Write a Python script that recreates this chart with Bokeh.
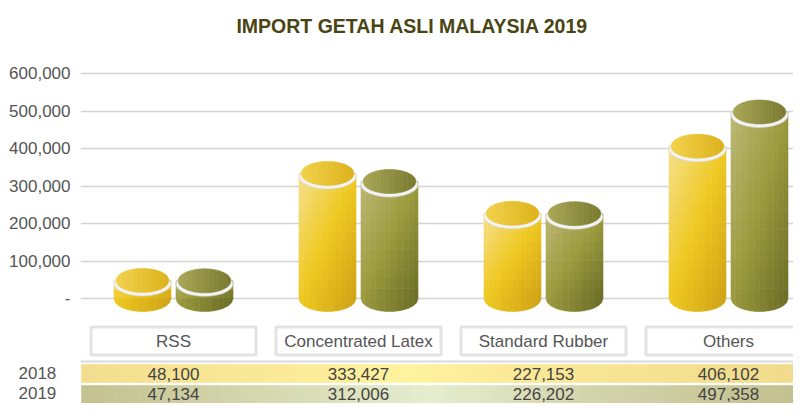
import numpy as np
from bokeh.plotting import figure
from bokeh.models import (Range1d, FixedTicker, ColumnDataSource, Label,
                          NumeralTickFormatter, Span)
from bokeh.embed import file_html
from bokeh.resources import INLINE
from bokeh.core.properties import value

# ---------------- data ----------------
categories = ["RSS", "Concentrated Latex", "Standard Rubber", "Others"]
years = ["2018", "2019"]
import_2018 = [48100, 333427, 227153, 406102]
import_2019 = [47134, 312006, 226202, 497358]
y_ticks = [0, 100000, 200000, 300000, 400000, 500000, 600000]
title_text = "IMPORT GETAH ASLI MALAYSIA 2019"

# ---------------- layout helpers ----------------
W, H = 793, 403
PX_PER_CAT = 185.0          # pixels between category centres
PX_PER_100K = 37.5          # pixels per 100,000


def dx(px):
    return px / PX_PER_CAT


def dy(px):
    return px * 1e5 / PX_PER_100K


def fx(px_x):              # canvas pixel -> data x
    return (px_x - 173.0) / PX_PER_CAT


def fy(px_y):              # canvas pixel -> data y
    return (298.0 - px_y) * 1e5 / PX_PER_100K


FONT_NAME = "Liberation Sans"
FONT = value(FONT_NAME)
FS = "17px"

# table row geometry (canvas px)
band_rows = {"2018": (364, 382), "2019": (385, 403)}
row_center = {"2018": 373, "2019": 393}
row_ticks = {int(round(fy(row_center[yr]))): yr for yr in years}

p = figure(width=W, height=H, output_backend="svg", toolbar_location=None,
           x_range=Range1d(fx(80), fx(W)), y_range=Range1d(fy(H), fy(0)),
           x_axis_location=None, min_border=0, min_border_left=80)
p.outline_line_color = None
p.background_fill_color = "white"
p.border_fill_color = "white"

ax = p.yaxis[0]
ax.ticker = FixedTicker(ticks=y_ticks + list(row_ticks.keys()))
ax.formatter = NumeralTickFormatter(format="0,0")
overrides = {0: "-"}
for k, yr in row_ticks.items():
    overrides[k] = yr + "\u00a0\u00a0\u00a0"
ax.major_label_overrides = overrides
ax.axis_line_color = None
ax.major_tick_line_color = None
ax.minor_tick_line_color = None
ax.major_tick_out = 0
ax.major_tick_in = 0
ax.major_label_standoff = 10
ax.major_label_text_font = FONT_NAME
ax.major_label_text_font_size = FS
ax.major_label_text_color = "#555555"
p.ygrid.ticker = FixedTicker(ticks=y_ticks)
p.ygrid.grid_line_color = "#d4d4d4"
p.ygrid.grid_line_width = 1.6
p.xgrid.visible = False


def hex2rgb(h):
    h = h.lstrip("#")
    return np.array([int(h[i:i + 2], 16) for i in (0, 2, 4)], dtype=float)


def lerp_stops(stops, t):
    t = min(max(t, 0.0), 1.0)
    for (p0, c0), (p1, c1) in zip(stops[:-1], stops[1:]):
        if t <= p1:
            f = (t - p0) / (p1 - p0) if p1 > p0 else 0
            c = hex2rgb(c0) * (1 - f) + hex2rgb(c1) * f
            return "#%02x%02x%02x" % tuple(int(round(v)) for v in c)
    return stops[-1][1]


body_stops = {
    "2018": [(0, "#f6e08e"), (0.5, "#efc921"), (1, "#cfa214")],
    "2019": [(0, "#bcb874"), (0.5, "#9c9b3e"), (1, "#6a6d26")],
}
face_stops = {
    "2018": [(0, "#f2d24c"), (1, "#ddb21a")],
    "2019": [(0, "#aaa757"), (1, "#797a2e")],
}

offsets = {"2018": -dx(31), "2019": dx(31)}
series = {"2018": import_2018, "2019": import_2019}
half = dx(28.5)
ry_bot = dy(13)
NC = 12

quads = dict(left=[], right=[], bottom=[], top=[], color=[])
bottoms = dict(xs=[], ys=[], color=[])
faces = dict(xs=[], ys=[], color=[])
rims = dict(x=[], y=[])

for yr in years:
    for i, v in enumerate(series[yr]):
        cx = i + offsets[yr]
        hpx = v * PX_PER_100K / 1e5
        NR = max(2, int(np.ceil(hpx / 10.0)))
        x_edges = np.linspace(cx - half, cx + half, NC + 1)
        y_edges = np.linspace(0, v, NR + 1)
        rx_f = half - dx(2)
        ry_f = dy(12)
        for c in range(NC):
            u = (c + 0.5) / NC
            for r in range(NR):
                w = 1 - (r + 0.5) / NR
                quads["left"].append(x_edges[c])
                quads["right"].append(x_edges[c + 1])
                quads["bottom"].append(y_edges[r])
                quads["top"].append(y_edges[r + 1])
                quads["color"].append(lerp_stops(body_stops[yr], 0.5 * u + 0.5 * w))
            # bottom half-ellipse strip
            xa, xb = x_edges[c], x_edges[c + 1]
            xsamp = np.linspace(xb, xa, 5)
            curve = -ry_bot * np.sqrt(np.clip(1 - ((xsamp - cx) / half) ** 2, 0, 1))
            bottoms["xs"].append([xa, xb] + list(xsamp))
            bottoms["ys"].append([0, 0] + list(curve))
            bottoms["color"].append(lerp_stops(body_stops[yr], 0.5 * u + 0.5))
            # top face strip
            fa = cx - rx_f + c * 2 * rx_f / NC
            fb = cx - rx_f + (c + 1) * 2 * rx_f / NC
            s = np.linspace(fa, fb, 5)
            k = np.sqrt(np.clip(1 - ((s - cx) / rx_f) ** 2, 0, 1))
            faces["xs"].append(list(s) + list(s[::-1]))
            faces["ys"].append(list(v + ry_f * k) + list((v - ry_f * k)[::-1]))
            faces["color"].append(lerp_stops(face_stops[yr], u))
        rims["x"].append(cx)
        rims["y"].append(v - dy(3))

# table row bands
band_stops = {
    "2018": [(0, "#f3dd8e"), (0.45, "#fff39e"), (0.62, "#f9e896"), (1, "#f1da8b")],
    "2019": [(0, "#c3c18f"), (0.48, "#e6edcd"), (0.7, "#d2d4ab"), (1, "#c2bf8d")],
}
bands = dict(left=[], right=[], bottom=[], top=[], color=[])
NS = 64
bx = np.linspace(fx(81), fx(809), NS + 1)
for yr in years:
    y0, y1 = band_rows[yr]
    for s in range(NS):
        bands["left"].append(bx[s])
        bands["right"].append(bx[s + 1])
        bands["top"].append(fy(y0))
        bands["bottom"].append(fy(y1))
        bands["color"].append(lerp_stops(band_stops[yr], (s + 0.5) / NS))

p.quad(left="left", right="right", bottom="bottom", top="top", source=ColumnDataSource(bands),
       fill_color="color", line_color="color", line_width=0.6)

p.add_layout(Span(location=fy(361), dimension="width", line_color="#dadada", line_width=2))

# cylinders
p.quad(left="left", right="right", bottom="bottom", top="top", source=ColumnDataSource(quads),
       fill_color="color", line_color="color", line_width=0.6)
p.patches(xs="xs", ys="ys", source=ColumnDataSource(bottoms),
          fill_color="color", line_color="color", line_width=0.6)
p.ellipse(x="x", y="y", width=2 * half, height=2 * dy(12.5), source=ColumnDataSource(rims),
          fill_color="#f3f3f3", line_color="#d6d6d6", line_width=0.6)
p.patches(xs="xs", ys="ys", source=ColumnDataSource(faces),
          fill_color="color", line_color="color", line_width=0.6)

# category boxes
idx = list(range(len(categories)))
p.rect(x=idx, y=fy(340.5), width=dx(165), height=dy(28), fill_color="white",
       line_color="#e3e3e3", line_width=3)
p.text(x=idx, y=fy(340.5), text=categories, text_font=FONT, text_font_size=FS,
       text_color="#555555", text_align="center", text_baseline="middle")

# table values
for yr in years:
    p.text(x=idx, y=fy(row_center[yr]), text=[f"{v:,}" for v in series[yr]],
           text_font=FONT, text_font_size=FS, text_color="#444444",
           text_align="center", text_baseline="middle")

p.add_layout(Label(x=fx(412), y=fy(25.5), text=title_text, text_font=FONT_NAME,
                   text_font_style="bold", text_font_size="19.5px", text_color="#4a4412",
                   text_align="center", text_baseline="middle"))

open("out.html", "w").write(file_html(p, INLINE))
